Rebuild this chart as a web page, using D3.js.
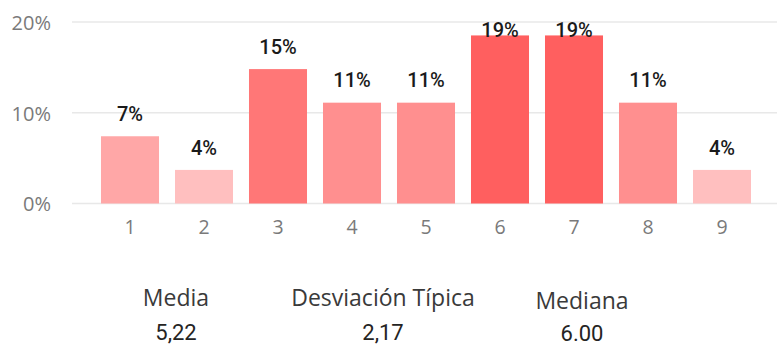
<!DOCTYPE html>
<html>
<head>
<meta charset="utf-8">
<script src="https://cdn.jsdelivr.net/npm/d3@7"></script>
<style>
  html, body { margin: 0; padding: 0; background: #fff; overflow: hidden; }
  svg { display: block; }
</style>
</head>
<body>
<svg id="chart" width="777" height="346"></svg>
<script>
// Score categories and the share of answers in each (percent)
const categories = ["1", "2", "3", "4", "5", "6", "7", "8", "9"];
const shares = [7.41, 3.70, 14.81, 11.11, 11.11, 18.52, 18.52, 11.11, 3.70];
const yTicks = [0, 10, 20];

// Summary cards below the chart
const statLabels = ["Media", "Desviación Típica", "Mediana"];
const statValues = ["5,22", "2,17", "6.00"];

const svg = d3.select("#chart");
const W = 777, H = 346;

const x = d3.scaleBand()
  .domain(categories)
  .range([93, 759])
  .paddingInner(0.216)
  .paddingOuter(0.108);

const y = d3.scaleLinear()
  .domain([0, 20])
  .range([203.5, 22]);

const color = d3.scaleLinear()
  .domain([d3.min(shares), d3.max(shares)])
  .range(["#ffbfbf", "#ff5f5f"]);

const pct = v => d3.format(".0%")(v / 100);

// Horizontal gridlines
svg.append("g")
  .selectAll("line")
  .data(yTicks)
  .join("line")
  .attr("x1", 72).attr("x2", W)
  .attr("y1", d => y(d)).attr("y2", d => y(d))
  .attr("stroke", "#e8e8e8")
  .attr("stroke-width", 1.5);

// Y axis labels
const yAxis = d3.axisLeft(y).tickValues(yTicks).tickSize(0).tickPadding(0)
  .tickFormat(d => d + "%");
svg.append("g")
  .attr("transform", "translate(51,0)")
  .call(yAxis)
  .call(g => g.select(".domain").remove())
  .call(g => g.selectAll("text")
    .attr("dy", null)
    .attr("y", 7.4)
    .attr("x", 0)
    .attr("text-anchor", "end")
    .attr("fill", "#7a7a7a")
    .style("font-family", "'Open Sans', 'Noto Sans', sans-serif")
    .style("font-size", "20px"));

// X axis labels
const xAxis = d3.axisBottom(x).tickSize(0).tickPadding(0);
svg.append("g")
  .attr("transform", "translate(0,203.5)")
  .call(xAxis)
  .call(g => g.select(".domain").remove())
  .call(g => g.selectAll("text")
    .attr("dy", null)
    .attr("y", 30)
    .attr("fill", "#7a7a7a")
    .style("font-family", "'Open Sans', 'Noto Sans', sans-serif")
    .style("font-size", "19.5px"));

// Bars
svg.append("g")
  .selectAll("rect")
  .data(shares)
  .join("rect")
  .attr("x", (d, i) => x(categories[i]))
  .attr("width", x.bandwidth())
  .attr("y", d => y(d))
  .attr("height", d => y(0) - y(d))
  .attr("fill", d => color(d));

// Value labels above the bars, kept inside the plot area
svg.append("g")
  .selectAll("text")
  .data(shares)
  .join("text")
  .attr("x", (d, i) => x(categories[i]) + x.bandwidth() / 2)
  .attr("y", d => Math.max(y(d) - 15.4, y(20) + 14.7))
  .attr("text-anchor", "middle")
  .attr("fill", "#1a1a1a")
  .style("font-family", "Roboto, sans-serif")
  .style("font-weight", 500)
  .style("font-size", "20px")
  .text(d => pct(d));

// Summary cards
const cardX = [176, 383, 582];
const cardLabelY = [305.5, 306, 309];
const cardValueY = [340, 340, 340.5];

svg.append("g")
  .selectAll("text")
  .data(statLabels)
  .join("text")
  .attr("x", (d, i) => cardX[i])
  .attr("y", (d, i) => cardLabelY[i])
  .attr("text-anchor", "middle")
  .attr("fill", "#3a3a3a")
  .style("font-family", "'Open Sans', 'Noto Sans', sans-serif")
  .style("font-size", "23px")
  .text(d => d);

svg.append("g")
  .selectAll("text")
  .data(statValues)
  .join("text")
  .attr("x", (d, i) => cardX[i])
  .attr("y", (d, i) => cardValueY[i])
  .attr("text-anchor", "middle")
  .attr("fill", "#252423")
  .style("font-family", "Roboto, sans-serif")
  .style("font-weight", 400)
  .style("font-size", "22px")
  .text(d => d);
</script>
</body>
</html>
